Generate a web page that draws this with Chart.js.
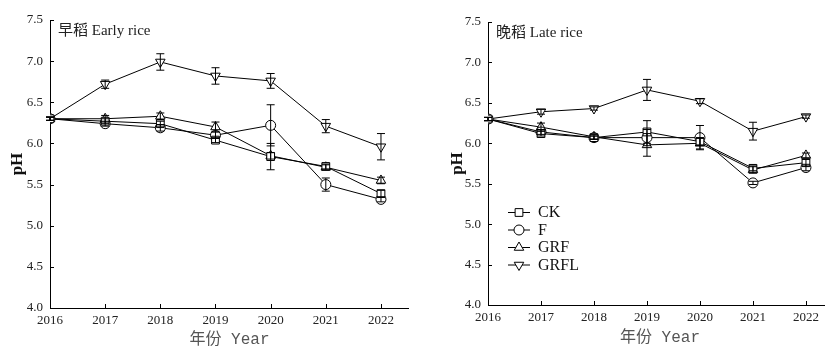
<!DOCTYPE html>
<html>
<head>
<meta charset="utf-8">
<script src="https://cdn.jsdelivr.net/npm/chart.js@4.4.1/dist/chart.umd.min.js"></script>
<style>
  body { margin: 0; background: #fff; width: 831px; height: 349px; position: relative; overflow: hidden; }
  .box { position: absolute; top: 0; height: 349px; }
  #early { left: 0; width: 415px; }
  #late { left: 420px; width: 411px; }
</style>
</head>
<body>
<div class="box" id="early"><canvas id="c1"></canvas></div>
<div class="box" id="late"><canvas id="c2"></canvas></div>
<script>
// ---------- data ----------
const years = [2016, 2017, 2018, 2019, 2020, 2021, 2022];
const yTicks = [4.0, 4.5, 5.0, 5.5, 6.0, 6.5, 7.0, 7.5];
const seriesNames = ['CK', 'F', 'GRF', 'GRFL'];

const earlyCK   = [6.30, 6.27, 6.24, 6.04, 5.84, 5.72, 5.39];
const earlyF    = [6.30, 6.24, 6.19, 6.10, 6.22, 5.50, 5.32];
const earlyGRF  = [6.30, 6.30, 6.33, 6.20, 5.85, 5.71, 5.55];
const earlyGRFL = [6.30, 6.72, 6.99, 6.82, 6.76, 6.21, 5.96];
const earlyCKErr   = [0.02, 0.03, 0.03, 0.03, 0.16, 0.03, 0.04];
const earlyFErr    = [0.02, 0.03, 0.04, 0.04, 0.25, 0.08, 0.03];
const earlyGRFErr  = [0.02, 0.04, 0.04, 0.06, 0.04, 0.03, 0.04];
const earlyGRFLErr = [0.02, 0.05, 0.10, 0.10, 0.09, 0.08, 0.16];

const lateCK   = [6.30, 6.12, 6.07, 6.14, 6.02, 5.69, 5.76];
const lateF    = [6.30, 6.14, 6.07, 6.07, 6.07, 5.51, 5.70];
const lateGRF  = [6.30, 6.20, 6.08, 5.98, 6.00, 5.67, 5.85];
const lateGRFL = [6.30, 6.39, 6.43, 6.66, 6.52, 6.15, 6.33];
const lateCKErr   = [0.02, 0.03, 0.02, 0.14, 0.04, 0.03, 0.04];
const lateFErr    = [0.02, 0.03, 0.02, 0.10, 0.15, 0.02, 0.04];
const lateGRFErr  = [0.02, 0.05, 0.03, 0.14, 0.07, 0.04, 0.03];
const lateGRFLErr = [0.02, 0.03, 0.02, 0.13, 0.03, 0.11, 0.02];

// ---------- styles ----------
const markers = [
  { pointStyle: 'rect', pointRadius: 5.5, rotation: 0 },
  { pointStyle: 'circle', pointRadius: 5, rotation: 0 },
  { pointStyle: 'triangle', pointRadius: 5.5, rotation: 0 },
  { pointStyle: 'triangle', pointRadius: 5.5, rotation: 180 }
];
const SERIF = '"Liberation Serif", "Noto Sans CJK SC", serif';
const AXIS_T = '"Liberation Mono", "Noto Sans CJK SC", monospace';

function makeSets(vals, errs) {
  return vals.map((v, i) => ({
    label: seriesNames[i],
    data: years.map((y, j) => ({ x: y, y: v[j] })),
    errs: errs[i],
    borderColor: '#000',
    borderWidth: 1,
    backgroundColor: '#fff',
    pointBackgroundColor: '#fff',
    pointBorderColor: '#000',
    pointBorderWidth: 1,
    pointStyle: markers[i].pointStyle,
    pointRadius: markers[i].pointRadius,
    pointRotation: markers[i].rotation,
    tension: 0
  }));
}

// ---------- plugins ----------
const errorBars = {
  id: 'errorBars',
  afterDatasetsDraw(chart) {
    const { ctx, scales: { x, y } } = chart;
    ctx.save();
    ctx.strokeStyle = '#000';
    ctx.lineWidth = 1;
    chart.data.datasets.forEach(ds => {
      ds.data.forEach((p, j) => {
        const e = ds.errs[j];
        const px = x.getPixelForValue(p.x);
        const top = y.getPixelForValue(p.y + e);
        const bot = y.getPixelForValue(p.y - e);
        ctx.beginPath();
        ctx.moveTo(px, top); ctx.lineTo(px, bot);
        ctx.moveTo(px - 4, top); ctx.lineTo(px + 4, top);
        ctx.moveTo(px - 4, bot); ctx.lineTo(px + 4, bot);
        ctx.stroke();
      });
    });
    ctx.restore();
  }
};

const decor = {
  id: 'decor',
  afterDraw(chart, args, o) {
    const { ctx, chartArea: a, scales: { x, y } } = chart;
    ctx.save();
    ctx.strokeStyle = '#000';
    ctx.lineWidth = 1;
    ctx.beginPath();
    x.ticks.forEach(t => {
      const px = Math.round(x.getPixelForValue(t.value)) + 0.5;
      ctx.moveTo(px, a.bottom); ctx.lineTo(px, a.bottom - 4);
    });
    y.ticks.forEach(t => {
      const py = Math.round(y.getPixelForValue(t.value)) + 0.5;
      ctx.moveTo(a.left, py); ctx.lineTo(a.left + 4, py);
    });
    ctx.stroke();

    ctx.fillStyle = '#222';
    ctx.textBaseline = 'middle';
    ctx.textAlign = 'left';
    ctx.font = '15px ' + SERIF;
    ctx.fillText(o.title, a.left + 8, a.top + 11);

    ctx.fillStyle = '#555';
    ctx.textAlign = 'center';
    ctx.font = '16px ' + AXIS_T;
    ctx.fillText('年份 Year', (a.left + x.getPixelForValue(2022)) / 2 + o.xtShift, o.xtY);

    ctx.fillStyle = '#111';
    ctx.font = 'bold 17px ' + SERIF;
    ctx.translate(o.phX, (a.top + a.bottom) / 2);
    ctx.rotate(-Math.PI / 2);
    ctx.fillText('pH', 0, 0);
    ctx.restore();

    if (o.legend) {
      ctx.save();
      ctx.font = '16px ' + SERIF;
      ctx.fillStyle = '#111';
      ctx.textAlign = 'left';
      ctx.textBaseline = 'middle';
      chart.data.datasets.forEach((ds, i) => {
        const ly = o.legend.y + i * 17.5;
        const lx = o.legend.x;
        ctx.strokeStyle = '#000';
        ctx.lineWidth = 1;
        ctx.beginPath();
        ctx.moveTo(lx, ly + 0.5); ctx.lineTo(lx + 22, ly + 0.5);
        ctx.stroke();
        ctx.fillStyle = '#fff';
        Chart.helpers.drawPoint(ctx, {
          pointStyle: ds.pointStyle, radius: ds.pointRadius, rotation: ds.pointRotation,
          borderWidth: 1
        }, lx + 11, ly + 0.5);
        ctx.fillStyle = '#111';
        ctx.fillText(ds.label, lx + 30, ly + 1);
      });
      ctx.restore();
    }
  }
};

function makeChart(id, sets, cfg) {
  new Chart(document.getElementById(id), {
    type: 'line',
    data: { datasets: sets },
    plugins: [errorBars, decor],
    options: {
      responsive: true,
      maintainAspectRatio: false,
      animation: false,
      events: [],
      layout: { padding: { top: cfg.top, right: cfg.right, left: 0, bottom: 0 } },
      plugins: {
        legend: { display: false },
        tooltip: { enabled: false },
        decor: cfg.decor
      },
      scales: {
        x: {
          type: 'linear',
          min: 2016, max: cfg.xmax,
          afterBuildTicks: s => { s.ticks = years.map(v => ({ value: v })); },
          afterFit: s => { s.height = cfg.xh; },
          grid: { display: false, drawTicks: false },
          border: { display: true, color: '#000', width: 1 },
          ticks: { padding: 5, color: '#222', font: { family: SERIF, size: 13 }, maxRotation: 0, callback: v => String(v) }
        },
        y: {
          min: 4, max: 7.5,
          afterBuildTicks: s => { s.ticks = yTicks.map(v => ({ value: v })); },
          afterFit: s => { s.width = cfg.yw; },
          grid: { display: false, drawTicks: false },
          border: { display: true, color: '#000', width: 1 },
          ticks: { padding: 7, color: '#222', font: { family: SERIF, size: 13 }, callback: v => Number(v).toFixed(1) }
        }
      }
    }
  });
}

makeChart('c1',
  makeSets([earlyCK, earlyF, earlyGRF, earlyGRFL], [earlyCKErr, earlyFErr, earlyGRFErr, earlyGRFLErr]),
  { top: 20, right: 7, xh: 41, yw: 50, xmax: 2022.49,
    decor: { title: '早稻 Early rice', xtY: 340, xtShift: 14, phX: 18 } });

makeChart('c2',
  makeSets([lateCK, lateF, lateGRF, lateGRFL], [lateCKErr, lateFErr, lateGRFErr, lateGRFLErr]),
  { top: 22, right: 0, xh: 44, yw: 68, xmax: 2022.35,
    decor: { title: '晚稻 Late rice', xtY: 338, xtShift: 13, phX: 38, legend: { x: 88, y: 212 } } });
</script>
</body>
</html>
